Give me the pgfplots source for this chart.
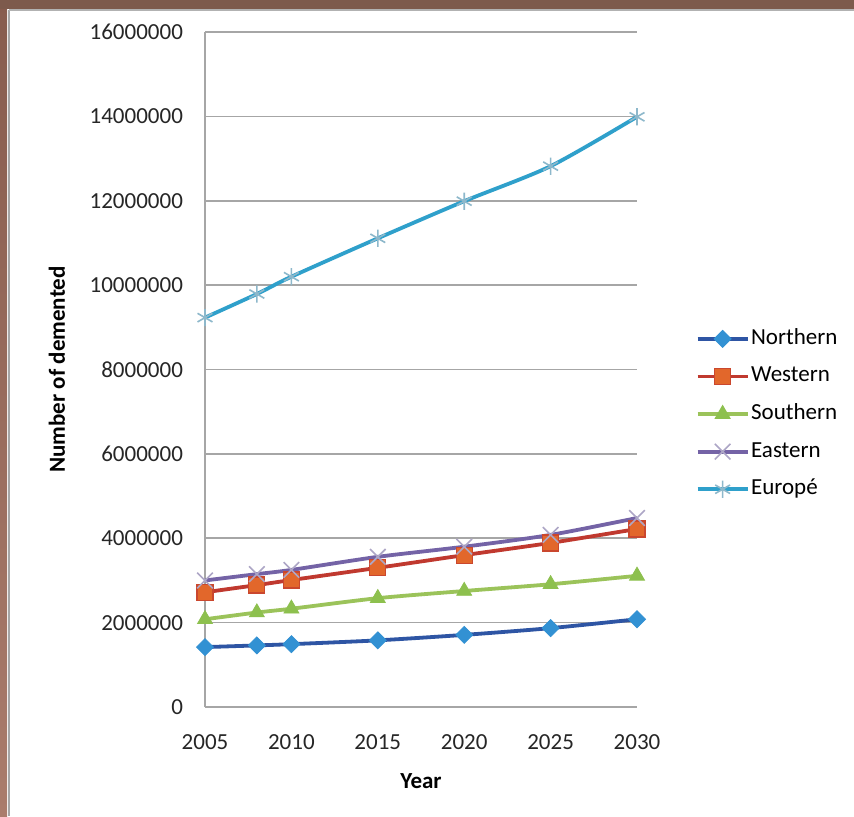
\documentclass[border=0pt]{standalone}
\usepackage{pgfplots}
\pgfplotsset{compat=1.18}
\usepackage{fontspec}
\setmainfont{Carlito}

% colours
\definecolor{frameTop}{HTML}{7D5A4C}
\definecolor{frameLeftA}{HTML}{875C4E}
\definecolor{frameLeftB}{HTML}{AA7C6C}
\definecolor{gridgray}{HTML}{A6A6A6}
\definecolor{northLine}{HTML}{2E55A4}
\definecolor{northMark}{HTML}{3291D3}
\definecolor{westLine}{HTML}{C0392F}
\definecolor{westMark}{HTML}{E2672B}
\definecolor{southLine}{HTML}{9BC35A}
\definecolor{southMark}{HTML}{8DC04E}
\definecolor{eastLine}{HTML}{7463A6}
\definecolor{eastMark}{HTML}{ADA6C6}
\definecolor{euroLine}{HTML}{2FA0CB}
\definecolor{euroMark}{HTML}{8DB8CB}

\begin{document}
\fontsize{11.5}{13.8}\selectfont
\begin{tikzpicture}
    % page frame (1px = 0.5pt)
    \path[use as bounding box] (0,0) rectangle (427pt,408pt);
    \fill[white] (0,0) rectangle (427pt,408pt);
    \shade[top color=frameLeftA, bottom color=frameLeftB] (0,0) rectangle (3.6pt,408pt);
    \fill[frameTop] (0,403.5pt) rectangle (427pt,408pt);
    \draw[gray!70, line width=0.8pt] (4.4pt,0) -- (4.4pt,403pt);
    \draw[gray!60, line width=0.8pt] (4.4pt,403pt) -- (427pt,403pt);

    \begin{axis}[
            ,at             = {(102.5pt,54.5pt)}
            ,anchor         = south west
            ,scale only axis
            ,width          = 216pt
            ,height         = 337.5pt
            ,xmin           = 2005
            ,xmax           = 2030
            ,ymin           = 0
            ,ymax           = 16000000
            ,xtick          = {2005,2010,...,2030}
            ,ytick          = {0,2000000,...,16000000}
            ,scaled y ticks = false
            ,/pgf/number format/fixed
            ,/pgf/number format/1000 sep={}
            ,/pgf/number format/assume math mode=true
            ,xticklabel style = {anchor=north, yshift=-9.5pt, text=black!85}
            ,yticklabel style = {anchor=east, xshift=-7pt, text=black!85}
            ,major tick length = 0pt
            ,axis x line    = bottom
            ,axis y line    = left
            ,axis line style = {-, draw=gridgray, line width=0.8pt}
            ,ymajorgrids    = true
            ,grid style     = {draw=gridgray, line width=0.8pt}
            ,xlabel         = {\textbf{Year}}
            ,ylabel         = {\textbf{Number of demented}}
            ,every axis x label/.style = {at={(axis description cs:0.5,-0.1096)}, anchor=center}
            ,every axis y label/.style = {at={(axis description cs:-0.3426,0.5)}, anchor=center, rotate=90}
            ,legend style   = {at={(axis description cs:1.135,0.434)}, anchor=west, draw=none, fill=none,
                               inner sep=0pt, row sep=8.3pt,
                               nodes={inner xsep=0.8pt, inner ysep=0pt, text height=8pt, text depth=2.5pt}}
            ,legend cell align = left
            ,legend image code/.code = {\draw[mark repeat=2, mark phase=2, #1] plot coordinates {(0pt,0pt) (12.5pt,0pt) (25pt,0pt)};}
            ,every axis plot/.append style = {line width=1.9pt, smooth, tension=0.45}
            ,clip           = false
            ]
        \addplot[color=northLine, mark=square*, mark size=3pt,
                 mark options={rotate=45, solid, line width=0.4pt, fill=northMark, draw=northMark}]
            coordinates {(2005,1420000) (2008,1460000) (2010,1490000) (2015,1580000) (2020,1710000) (2025,1870000) (2030,2080000)};
        \addlegendentry{Northern}
        \addplot[color=westLine, mark=square*, mark size=4pt,
                 mark options={solid, line width=0.6pt, fill=westMark, draw=westLine!70!westMark}]
            coordinates {(2005,2720000) (2008,2890000) (2010,3010000) (2015,3300000) (2020,3600000) (2025,3890000) (2030,4220000)};
        \addlegendentry{Western}
        \addplot[color=southLine, mark=triangle*, mark size=4.3pt,
                 mark options={solid, line width=0.4pt, fill=southMark, draw=southMark}]
            coordinates {(2005,2080000) (2008,2240000) (2010,2330000) (2015,2580000) (2020,2750000) (2025,2910000) (2030,3110000)};
        \addlegendentry{Southern}
        \addplot[color=eastLine, mark=x, mark size=5.5pt,
                 mark options={solid, line width=0.8pt, draw=eastMark}]
            coordinates {(2005,3000000) (2008,3150000) (2010,3250000) (2015,3560000) (2020,3800000) (2025,4080000) (2030,4480000)};
        \addlegendentry{Eastern}
        \addplot[color=euroLine, mark=asterisk, mark size=4.3pt,
                 mark options={solid, line width=0.8pt, draw=euroMark}]
            coordinates {(2005,9230000) (2008,9790000) (2010,10200000) (2015,11110000) (2020,11990000) (2025,12820000) (2030,13990000)};
        \addlegendentry{Europé}
    \end{axis}
\end{tikzpicture}
\end{document}
